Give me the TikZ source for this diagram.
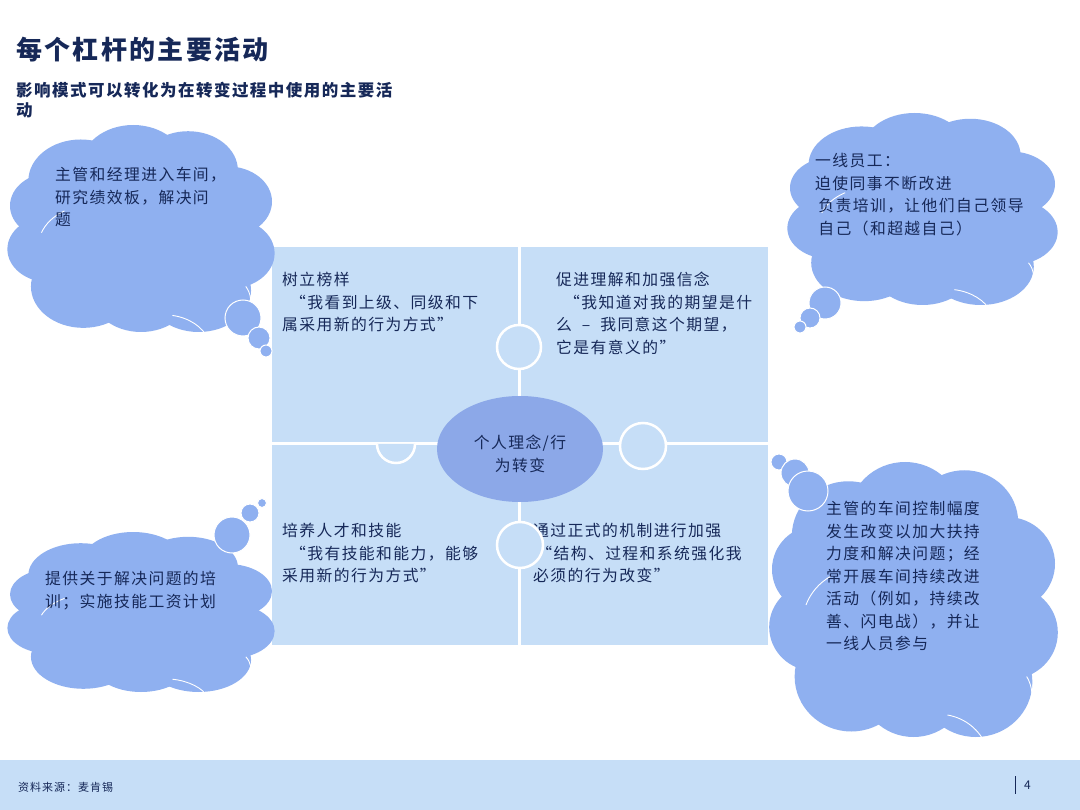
\documentclass[tikz,border=0pt]{standalone}
\usepackage{fontspec}
\setmainfont{Noto Sans CJK SC}[LetterSpace=9]
\definecolor{navy}{RGB}{22,40,88}
\definecolor{quadc}{RGB}{198,222,247}
\definecolor{cloudc}{RGB}{143,176,240}
\definecolor{ellc}{RGB}{140,168,232}
\definecolor{footc}{RGB}{198,222,247}
\tikzset{
  txt/.style={anchor=north west,inner sep=0pt,align=left,text=navy,font=\fontsize{15.8}{22.5}\selectfont},
  bubble/.style={fill=cloudc,draw=white,line width=1pt},
  puzz/.style={draw=white,line width=2.5pt,fill=quadc}
}
\newcommand{\mycloud}[4]{%
  \begin{scope}[shift={(#1,#2)},xscale=#3,yscale=#4]
    \fill[cloudc] (0.5,0.5) ellipse (0.36 and 0.34);
    \fill[cloudc] (0.27,0.27) circle (0.2);
    \fill[cloudc] (0.47,0.2) circle (0.2);
    \fill[cloudc] (0.68,0.22) circle (0.19);
    \fill[cloudc] (0.83,0.37) circle (0.17);
    \fill[cloudc] (0.84,0.62) circle (0.17);
    \fill[cloudc] (0.72,0.8) circle (0.2);
    \fill[cloudc] (0.5,0.81) circle (0.19);
    \fill[cloudc] (0.28,0.78) circle (0.2);
    \fill[cloudc] (0.15,0.6) circle (0.16);
    \fill[cloudc] (0.16,0.39) circle (0.16);
    \draw[white,line width=0.9pt] (0.12,0.52) arc[start angle=200,end angle=240,radius=0.2];
    \draw[white,line width=0.9pt] (0.62,0.92) arc[start angle=-80,end angle=-20,radius=0.18];
    \draw[white,line width=0.9pt] (0.9,0.78) arc[start angle=-30,end angle=20,radius=0.14];
  \end{scope}}
\begin{document}
\begin{tikzpicture}[x=1pt,y=-1pt]
\useasboundingbox (0,0) rectangle (1080,810);
\fill[white] (0,0) rectangle (1080,810);
% title
\node[anchor=west,inner sep=0pt,text=navy,font=\fontsize{26}{30}\bfseries\selectfont] (title) at (16,50) {每个杠杆的主要活动};
\node[anchor=north west,inner sep=0pt,align=left,text=navy,font=\fontsize{16.5}{20}\bfseries\selectfont] (sub) at (16,82) {影响模式可以转化为在转变过程中使用的主要活\\动};
% quadrants
\fill[quadc] (272,247) rectangle (768,645);
\node[txt] (tl) at (282,272) {树立榜样\\\hspace{0.5em}“我看到上级、同级和下\\属采用新的行为方式”};
\node[txt] (tr) at (556,272) {促进理解和加强信念\\\hspace{0.5em}“我知道对我的期望是什\\么\ \ –\ \ 我同意这个期望，\\它是有意义的”};
\node[txt] (bl) at (282,523) {培养人才和技能\\\hspace{0.5em}“我有技能和能力，能够\\采用新的行为方式”};
\node[txt] (br) at (533,523) {通过正式的机制进行加强\\\hspace{0.2em}“结构、过程和系统强化我\\必须的行为改变”};
\draw[white,line width=3pt] (519,247) -- (519,645);
\draw[white,line width=3pt] (272,444) -- (768,444);
\draw[puzz] (519,347) circle (22);
\draw[puzz] (377,444) arc[start angle=180,end angle=0,radius=19];
\draw[puzz] (643,446) circle (23);
\draw[puzz] (520,545) circle (23);
\fill[ellc] (520,449) ellipse (83 and 53);
\node[anchor=center,inner sep=0pt,align=center,text=navy,font=\fontsize{15.8}{23}\selectfont] (center) at (520,454) {个人理念/行\\为转变};
% clouds
\mycloud{10}{125}{262}{207}
\draw[bubble] (243,318) circle (18);
\draw[bubble] (259,338) circle (11);
\draw[bubble] (266,351) circle (6);
\node[txt] (c1) at (55,167) {主管和经理进入车间，\\研究绩效板，解决问\\题};

\mycloud{790}{113}{265}{192}
\draw[bubble] (825,303) circle (16);
\draw[bubble] (810,318) circle (10);
\draw[bubble] (800,327) circle (6);
\node[txt] (c2) at (815,153) {一线员工：\\迫使同事不断改进\\\hspace{0.2em}负责培训，让他们自己领导\\\hspace{0.2em}自己（和超越自己）};

\mycloud{10}{532}{262}{160}
\draw[bubble] (232,535) circle (18);
\draw[bubble] (250,513) circle (9);
\draw[bubble] (262,503) circle (4.5);
\node[txt] (c3) at (45,571) {提供关于解决问题的培\\训；实施技能工资计划};

\mycloud{772}{462}{283}{275}
\draw[bubble] (779,462) circle (8);
\draw[bubble] (795,473) circle (14);
\draw[bubble] (808,491) circle (20);
\node[txt] (c4) at (826,501) {主管的车间控制幅度\\发生改变以加大扶持\\力度和解决问题；经\\常开展车间持续改进\\活动（例如，持续改\\善、闪电战），并让\\一线人员参与};
% footer
\fill[footc] (0,760) rectangle (1080,810);
\node[anchor=west,inner sep=0pt,text=navy,font=\fontsize{11}{13}\selectfont] (src) at (18,787) {资料来源：麦肯锡};
\draw[navy,line width=1pt] (1015,776) -- (1015,794);
\node[anchor=west,inner sep=0pt,text=navy,font=\fontsize{12}{14}\selectfont] (pg) at (1024,785) {4};
\end{tikzpicture}
\end{document}
